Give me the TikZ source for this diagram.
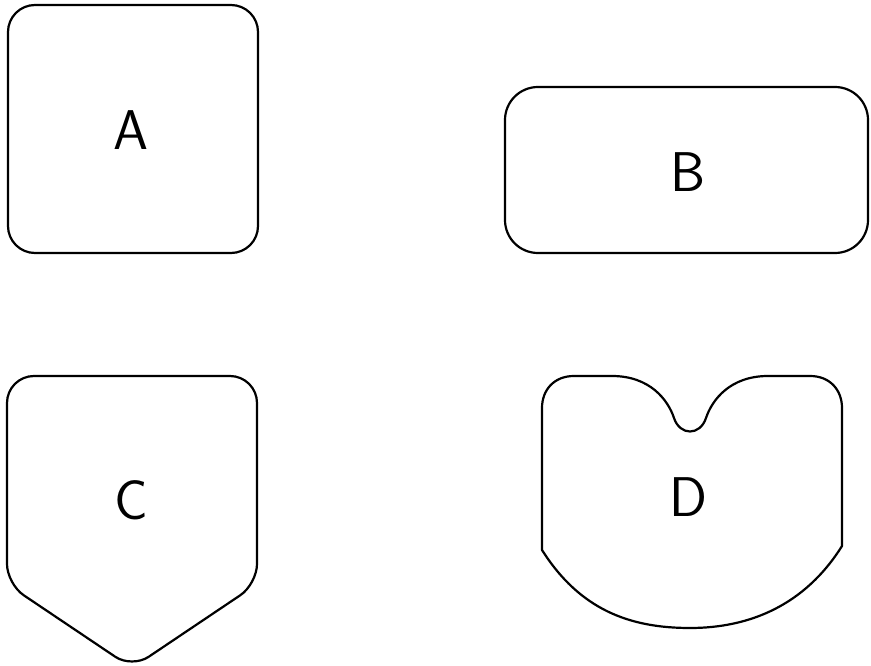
\documentclass[tikz,border=0pt]{standalone}
\usepackage{tikz}
\usetikzlibrary{positioning, calc}
\tikzstyle{outline} = [draw=black, line width=2.2pt, line join=round]
\tikzstyle{letter} = [font=\sffamily\fontsize{56}{60}\selectfont, inner sep=0pt]

\begin{document}
\begin{tikzpicture}[x=1pt, y=-1pt]
    % Frame
    \useasboundingbox (0,0) rectangle (871,666);

    % Shape A
    \draw[outline, rounded corners=27pt] (8,5) rectangle (258,253);
    \node[letter] (labelA) at (131,130) {A};

    % Shape B
    \draw[outline, rounded corners=33pt] (505,87) rectangle (868,253);
    \node[letter] (labelB) at (688,172) {B};

    % Shape C
    \draw[outline, rounded corners=20pt] (132,668) -- (7,584) [rounded corners=27pt] -- (7,376) -- (257,376) [rounded corners=20pt] -- (257,584) -- cycle;
    \node[letter] (labelC) at (131,500) {C};

    % Shape D
    \draw[outline] (542,550) -- (542,408) .. controls (542,390) and (554,376) .. (574,376) -- (612,376)
        .. controls (650,376) and (668,400) .. (674,418)
        .. controls (680,436) and (700,436) .. (706,418)
        .. controls (712,400) and (730,376) .. (768,376) -- (810,376)
        .. controls (830,376) and (842,390) .. (842,408) -- (842,546)
        .. controls (805,605) and (750,628) .. (690,628)
        .. controls (630,628) and (580,610) .. (542,550) -- cycle;
    \node[letter] (labelD) at (688,497) {D};
\end{tikzpicture}
\end{document}
